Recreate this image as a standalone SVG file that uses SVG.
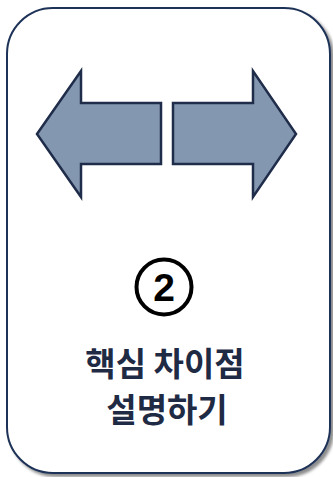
<svg xmlns="http://www.w3.org/2000/svg" width="333" height="477" viewBox="0 0 333 477">
<defs>
<filter id="sh" x="-5%" y="-5%" width="115%" height="115%">
<feDropShadow dx="3" dy="3" stdDeviation="1.8" flood-color="#000" flood-opacity="0.45"/>
</filter>
<style>
.arrow{fill:#8497b0;stroke:#1f2d4a;stroke-width:2.5;stroke-linejoin:miter}
.lbl{font-family:"Noto Sans CJK KR","Noto Sans",sans-serif;font-weight:bold;font-size:33px;fill:#1f2a44;text-anchor:middle}
</style>
</defs>
<rect width="333" height="477" fill="#fff"/>
<g id="card">
<rect x="7" y="8" width="323" height="465" rx="46" ry="46" fill="#fff" stroke="#1f3257" stroke-width="2" filter="url(#sh)"/>
</g>
<g id="arrow-left">
<polygon class="arrow" points="37,134 81,71 81,103 161,103 161,164 81,164 81,197"/>
</g>
<g id="arrow-right">
<polygon class="arrow" points="173,103 253,103 253,71 296,134 253,197 253,164 173,164"/>
</g>
<g id="badge">
<circle cx="164" cy="287" r="27.5" fill="none" stroke="#000" stroke-width="4"/>
<text x="164" y="301" font-family="'Liberation Sans',Arial,sans-serif" font-weight="bold" font-size="39" text-anchor="middle" fill="#000">2</text>
</g>
<g id="label">
<text class="lbl" x="165" y="376">핵심 차이점</text>
<text class="lbl" x="167" y="422">설명하기</text>
</g>
</svg>
